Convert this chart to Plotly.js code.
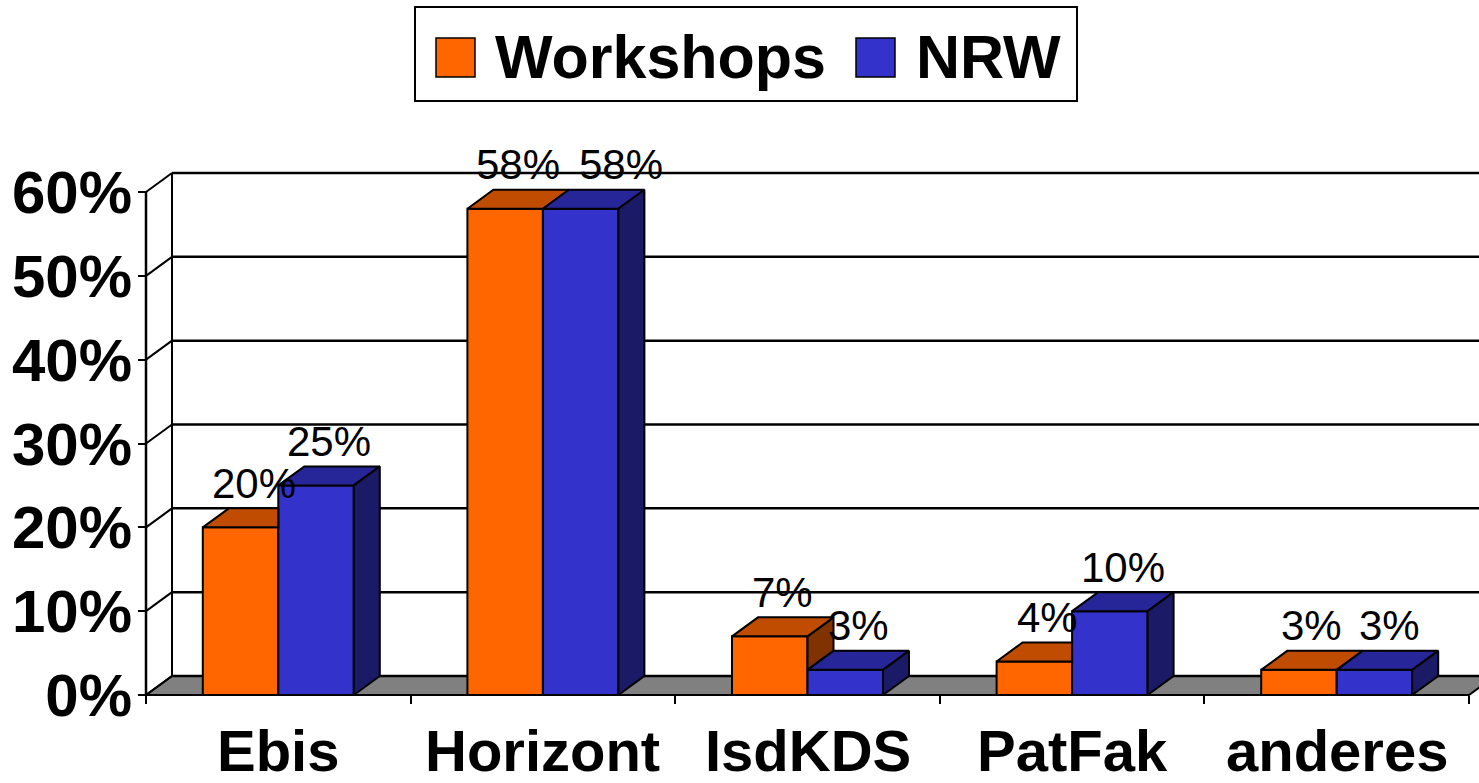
<!DOCTYPE html>
<html>
<head>
<meta charset="utf-8">
<script src="https://cdn.plot.ly/plotly-3.0.1.min.js"></script>
<style>html,body{margin:0;padding:0;background:#fff;}#chart{width:1479px;height:783px;}</style>
</head>
<body>
<div id="chart"></div>
<script>
// ---- data ----
const categories = ['Ebis', 'Horizont', 'IsdKDS', 'PatFak', 'anderes'];
const seriesNames = ['Workshops', 'NRW'];
const workshops = [0.20, 0.58, 0.07, 0.04, 0.03];
const nrw = [0.25, 0.58, 0.03, 0.10, 0.03];
const yTicks = [0, 0.1, 0.2, 0.3, 0.4, 0.5, 0.6];

// ---- styles / geometry ----
const FONT = 'Liberation Sans, Arial, Helvetica, sans-serif';
const orange = {front: '#FF6600', top: '#BF4C00', side: '#803300'};
const blue = {front: '#3333CC', top: '#262699', side: '#1A1A66'};
const W = 1479, H = 783;
const M = {l: 120, r: 0, t: 130, b: 63};
const plotW = W - M.l - M.r, plotH = H - M.t - M.b;
const X0PX = 146, CATPX = 264.6, Y0PX = 695, YTOPPX = 192;
const yMax = yTicks[yTicks.length - 1];
const pxPerY = (Y0PX - YTOPPX) / yMax;
const DX = 26 / CATPX, DY = 19 / pxPerY;   // 3D depth offset in data units
const BW = 75.5 / CATPX;                    // bar width in category units
const xRange = [(M.l - X0PX) / CATPX, (W - M.r - X0PX) / CATPX];
const yRange = [-(H - M.b - Y0PX) / pxPerY, (Y0PX - M.t) / pxPerY];
const nCat = categories.length;
const centers = categories.map((c, i) => i + 0.5);
const px2x = p => (p - M.l) / plotW;
const px2y = p => (H - M.b - p) / plotH;
const LW = 2;
const GLW = 2.5;
const LABEL_SIZE = 42;

function polys(list) {
  const x = [], y = [];
  list.forEach(pts => {
    if (!pts) return;
    pts.concat([pts[0]]).forEach(p => { x.push(p[0]); y.push(p[1]); });
    x.push(null); y.push(null);
  });
  return {x, y};
}

const oTop = [], oSide = [], bTop = [], bSide = [];
centers.forEach((c, i) => {
  const v1 = workshops[i], v2 = nrw[i];
  const x0 = c - BW, x1 = c, x2 = c + BW;
  if (v1 >= v2) {
    oTop.push([[x0, v1], [x1, v1], [x1 + DX, v1 + DY], [x0 + DX, v1 + DY]]);
    if (v1 > v2) oSide.push([[x1, v2], [x1, v1], [x1 + DX, v1 + DY], [x1 + DX, v2 + DY]]);
  } else {
    oTop.push([[x0, v1], [x1, v1], [x1, v1 + DY], [x0 + DX, v1 + DY]]);
  }
  bTop.push([[x1, v2], [x2, v2], [x2 + DX, v2 + DY], [x1 + DX, v2 + DY]]);
  bSide.push([[x2, 0], [x2, v2], [x2 + DX, v2 + DY], [x2 + DX, DY]]);
});

function faceTrace(list, color) {
  const p = polys(list);
  return {type: 'scatter', mode: 'lines', x: p.x, y: p.y, fill: 'toself', fillcolor: color,
          line: {color: '#000', width: LW}, hoverinfo: 'skip', showlegend: false, connectgaps: false};
}

const traces = [
  {type: 'bar', name: seriesNames[0], x: centers, y: workshops, width: BW, offset: -BW,
   marker: {color: orange.front, line: {color: '#000', width: LW}}, showlegend: false},
  {type: 'bar', name: seriesNames[1], x: centers, y: nrw, width: BW, offset: 0,
   marker: {color: blue.front, line: {color: '#000', width: LW}}, showlegend: false},
  faceTrace(oSide, orange.side),
  faceTrace(oTop, orange.top),
  faceTrace(bTop, blue.top),
  faceTrace(bSide, blue.side)
];

// ---- walls, floor, grid (shapes below traces) ----
const shapes = [];
shapes.push({type: 'path', layer: 'below', xref: 'x', yref: 'y',
  path: `M0,0 L${nCat},0 L${nCat + DX},${DY} L${DX},${DY} Z`,
  fillcolor: '#808080', line: {color: '#000', width: LW}});
yTicks.forEach(v => {
  shapes.push({type: 'line', layer: 'below', xref: 'x', yref: 'y',
    x0: DX, y0: v + DY, x1: nCat + 1, y1: v + DY, line: {color: '#000', width: GLW}});
  shapes.push({type: 'line', layer: 'below', xref: 'x', yref: 'y',
    x0: 0, y0: v, x1: DX, y1: v + DY, line: {color: '#000', width: LW}});
});
shapes.push({type: 'line', layer: 'below', xref: 'x', yref: 'y',
  x0: DX, y0: DY, x1: DX, y1: yMax + DY, line: {color: '#000', width: LW}});
shapes.push({type: 'line', layer: 'below', xref: 'x', yref: 'y',
  x0: 0, y0: 0, x1: 0, y1: yMax, line: {color: '#000', width: GLW}});

// ---- legend (drawn manually for large swatches) ----
const legBox = {x0: 415, x1: 1077, y0: 7, y1: 101};
shapes.push({type: 'rect', xref: 'paper', yref: 'paper', layer: 'above',
  x0: px2x(legBox.x0), x1: px2x(legBox.x1), y0: px2y(legBox.y1), y1: px2y(legBox.y0),
  fillcolor: '#fff', line: {color: '#000', width: LW}});
const legItems = [
  {name: seriesNames[0], color: orange.front, sx: 436, tx: 493},
  {name: seriesNames[1], color: blue.front, sx: 856, tx: 914}
];
const annotations = [];
legItems.forEach(it => {
  shapes.push({type: 'rect', xref: 'paper', yref: 'paper', layer: 'above',
    x0: px2x(it.sx), x1: px2x(it.sx + 39), y0: px2y(77), y1: px2y(38),
    fillcolor: it.color, line: {color: '#000', width: 1.5}});
  annotations.push({xref: 'paper', yref: 'paper', x: px2x(it.tx), y: px2y(57), xanchor: 'left', yanchor: 'middle',
    text: it.name, showarrow: false, font: {family: FONT, size: 61, color: '#000', weight: 'bold'}});
});

// ---- value labels (with simple overlap avoidance inside a category) ----
const labelText = v => Math.round(v * 100) + '%';
const labelW = t => t.length * 0.62 * LABEL_SIZE;
centers.forEach((c, i) => {
  const v1 = workshops[i], v2 = nrw[i];
  const t1 = labelText(v1), t2 = labelText(v2);
  let shift2 = 0;
  const cxGapPx = BW * CATPX;                       // distance between label centres
  const need = (labelW(t1) + labelW(t2)) / 2 + 25;  // required distance
  const dyPx = Math.abs(v1 - v2) * pxPerY;
  if (dyPx < LABEL_SIZE * 0.7 && cxGapPx < need) shift2 = need - cxGapPx;
  [[v1, t1, -BW, 0], [v2, t2, 0, shift2]].forEach(([v, t, off, xs]) => {
    annotations.push({xref: 'x', yref: 'y', x: c + off + BW / 2 + DX / 2, y: v + DY,
      text: t, showarrow: false, xanchor: 'center', yanchor: 'middle', yshift: 25, xshift: xs,
      font: {family: FONT, size: LABEL_SIZE, color: '#000'}});
  });
});

// ---- category labels ----
categories.forEach((c, i) => {
  annotations.push({xref: 'x', yref: 'y', x: centers[i], y: 0, yshift: -55, xanchor: 'center', yanchor: 'middle',
    text: c, showarrow: false, borderpad: 0, font: {family: FONT, size: 58, color: '#000', weight: 'bold'}});
});

const layout = {
  width: W, height: H, margin: M, paper_bgcolor: '#fff', plot_bgcolor: '#fff',
  barmode: 'overlay', showlegend: false, hovermode: false,
  xaxis: {range: xRange, anchor: 'free', position: (H - M.b - Y0PX) / plotH,
    tickmode: 'array', tickvals: categories.map((c, i) => i).concat([nCat]),
    ticks: 'outside', ticklen: 8, tickwidth: LW, tickcolor: '#000',
    showticklabels: false, showgrid: false, zeroline: false, showline: false, fixedrange: true},
  yaxis: {range: yRange, anchor: 'free', position: (X0PX - M.l) / plotW,
    tickmode: 'array', tickvals: yTicks, tickformat: '.0%',
    ticks: 'outside', ticklen: 8, tickwidth: LW, tickcolor: '#000', ticklabelstandoff: -6,
    tickfont: {family: FONT, size: 60, color: '#000', weight: 'bold'},
    showgrid: false, zeroline: false, showline: false, fixedrange: true},
  shapes: shapes, annotations: annotations
};

Plotly.newPlot('chart', traces, layout, {displayModeBar: false, staticPlot: true});
</script>
</body>
</html>
